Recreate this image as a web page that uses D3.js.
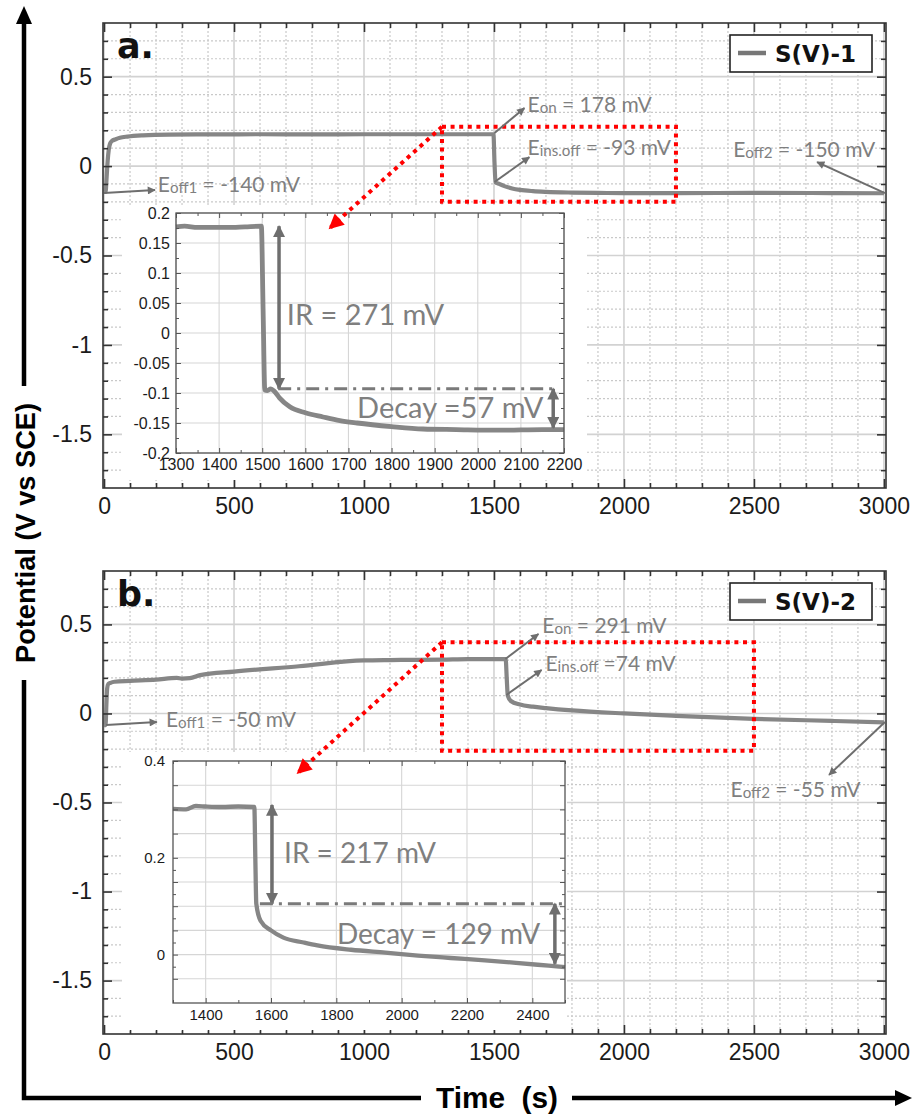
<!DOCTYPE html>
<html>
<head>
<meta charset="utf-8">
<script src="https://cdn.jsdelivr.net/npm/d3@7"></script>
<style>
  body { margin: 0; background: #fff; }
  svg { display: block; }
</style>
</head>
<body>
<svg id="chart" width="914" height="1117"></svg>
<script>
// ---- data ----
// panel a, S(V)-1 : time (s) / potential (V vs SCE)
var timeA = [0, 6, 10, 14, 18, 23, 30, 45, 61, 90, 150, 250, 400, 600, 800, 1000, 1200, 1400, 1498, 1502, 1506, 1520, 1540, 1570, 1600, 1650, 1700, 1800, 1900, 2000, 2200, 2500, 2800, 3000];
var potA = [-0.145, -0.145, -0.06, 0.03, 0.09, 0.125, 0.14, 0.15, 0.158, 0.165, 0.172, 0.176, 0.177, 0.178, 0.177, 0.178, 0.178, 0.178, 0.178, 0.02, -0.09, -0.1, -0.112, -0.125, -0.133, -0.14, -0.144, -0.148, -0.15, -0.151, -0.151, -0.15, -0.151, -0.152];
// panel b, S(V)-2
var timeB = [0, 6, 9, 12, 16, 25, 40, 100, 200, 280, 300, 330, 370, 500, 750, 1000, 1100, 1200, 1300, 1400, 1545, 1549, 1553, 1565, 1600, 1650, 1700, 1800, 2000, 2200, 2500, 2800, 3000];
var potB = [-0.065, -0.065, 0.05, 0.14, 0.165, 0.172, 0.178, 0.183, 0.19, 0.2, 0.196, 0.198, 0.215, 0.235, 0.265, 0.298, 0.3, 0.301, 0.302, 0.305, 0.305, 0.2, 0.1, 0.07, 0.05, 0.038, 0.03, 0.017, 0.0, -0.013, -0.03, -0.042, -0.05];
// zoomed insets
var insetTimeA = [1300, 1320, 1350, 1380, 1420, 1460, 1498, 1502, 1506, 1512, 1520, 1528, 1540, 1564, 1600, 1641, 1680, 1720, 1800, 1873, 1950, 2050, 2150, 2200];
var insetPotA = [0.177, 0.178, 0.176, 0.176, 0.176, 0.177, 0.178, 0.04, -0.095, -0.096, -0.093, -0.097, -0.108, -0.123, -0.133, -0.14, -0.146, -0.15, -0.156, -0.16, -0.161, -0.162, -0.161, -0.161];
var insetTimeB = [1300, 1340, 1370, 1400, 1450, 1500, 1549, 1552, 1555, 1568, 1600, 1638, 1700, 1742, 1845, 1950, 2050, 2150, 2255, 2350, 2450, 2500];
var insetPotB = [0.301, 0.3, 0.307, 0.306, 0.305, 0.306, 0.305, 0.2, 0.105, 0.07, 0.05, 0.035, 0.025, 0.019, 0.01, 0.004, -0.002, -0.007, -0.012, -0.017, -0.023, -0.026];

// tick labels
var xTicksMain = [0, 500, 1000, 1500, 2000, 2500, 3000];
var yTicksMain = [-1.5, -1, -0.5, 0, 0.5];
var xTicksInsetA = [1300, 1400, 1500, 1600, 1700, 1800, 1900, 2000, 2100, 2200];
var yTicksInsetA = [-0.2, -0.15, -0.1, -0.05, 0, 0.05, 0.1, 0.15, 0.2];
var xTicksInsetB = [1400, 1600, 1800, 2000, 2200, 2400];
var yTicksInsetB = [0, 0.2, 0.4];

var legendNames = ["S(V)-1", "S(V)-2"];

const svg = d3.select("#chart");
const GRAY = "#7f7f7f";
const ANN = "#6e6e6e";

// markers
const defs = svg.append("defs");
function marker(id, w, h, color) {
  defs.append("marker")
    .attr("id", id)
    .attr("viewBox", "0 0 10 10")
    .attr("refX", 9).attr("refY", 5)
    .attr("markerWidth", w).attr("markerHeight", h)
    .attr("markerUnits", "userSpaceOnUse")
    .attr("orient", "auto-start-reverse")
    .append("path").attr("d", "M0,0 L10,5 L0,10 Z").attr("fill", color);
}
marker("arrSmall", 10, 8, ANN);
marker("arrBig", 13, 12, ANN);
marker("arrRed", 17, 15, "#ff0000");

function fmt(d) { return String(+d.toFixed(2)); }

// E with subscript label
function eLabel(g, px, py, sub, rest, size) {
  const t = g.append("text")
    .attr("x", px).attr("y", py)
    .attr("font-family", "Lato, 'Open Sans', sans-serif")
    .attr("font-size", size)
    .attr("fill", GRAY)
    .style("white-space", "pre");
  t.append("tspan").text("E");
  t.append("tspan").attr("font-size", size * 0.72).attr("dy", 1).text(sub);
  t.append("tspan").attr("dy", -1).text(rest);
}

function annArrow(g, x1, y1, x2, y2) {
  g.append("line")
    .attr("x1", x1).attr("y1", y1).attr("x2", x2).attr("y2", y2)
    .attr("stroke", ANN).attr("stroke-width", 2)
    .attr("marker-end", "url(#arrSmall)");
}

function drawFrameAxes(g, x, y, o) {
  const [x0, x1] = x.range();
  const [y1, y0] = y.range(); // y1 bottom, y0 top
  const w = x1 - x0, h = y1 - y0;

  g.append("g").attr("transform", `translate(0,${y1})`)
    .call(d3.axisBottom(x).tickValues(o.xMajor).tickSize(-o.maj).tickPadding(o.padX)
      .tickFormat(fmt));
  g.append("g").attr("transform", `translate(0,${y0})`)
    .call(d3.axisTop(x).tickValues(o.xMajor).tickSize(-o.maj).tickFormat(""));
  g.append("g").attr("transform", `translate(${x0},0)`)
    .call(d3.axisLeft(y).tickValues(o.yMajor).tickSize(-o.maj).tickPadding(o.padY)
      .tickFormat(d => (o.yLabelled ? (o.yLabelled.includes(d) ? fmt(d) : "") : fmt(d))));
  g.append("g").attr("transform", `translate(${x1},0)`)
    .call(d3.axisRight(y).tickValues(o.yMajor).tickSize(-o.maj).tickFormat(""));
  g.append("g").attr("transform", `translate(0,${y1})`)
    .call(d3.axisBottom(x).tickValues(o.xMinor).tickSize(-o.min).tickFormat(""));
  g.append("g").attr("transform", `translate(0,${y0})`)
    .call(d3.axisTop(x).tickValues(o.xMinor).tickSize(-o.min).tickFormat(""));
  g.append("g").attr("transform", `translate(${x0},0)`)
    .call(d3.axisLeft(y).tickValues(o.yMinor).tickSize(-o.min).tickFormat(""));
  g.append("g").attr("transform", `translate(${x1},0)`)
    .call(d3.axisRight(y).tickValues(o.yMinor).tickSize(-o.min).tickFormat(""));

  g.selectAll(".domain").remove();
  g.selectAll(".tick line").attr("stroke", o.tickColor).attr("stroke-width", o.tickW);
  g.selectAll(".tick text")
    .attr("font-family", "'Liberation Sans', Arial, sans-serif")
    .attr("font-size", o.fontSize)
    .attr("fill", "#1b1b1b");

  g.append("rect")
    .attr("x", x0).attr("y", y0).attr("width", w).attr("height", h)
    .attr("fill", "none").attr("stroke", o.frameColor).attr("stroke-width", o.frameW);
}

function drawPanel(p, idx) {
  const g = svg.append("g");
  const x = d3.scaleLinear().domain([-4, 3008]).range([103, 886]);
  const y = d3.scaleLinear().domain([-1.8, 0.8]).range([p.bottom, p.top]);

  // grid
  const xMinor = d3.range(100, 3001, 100).filter(v => v % 500 !== 0);
  const yMinor = d3.range(-17, 8, 1).filter(v => v % 5 !== 0).map(v => v / 10);
  const grid = g.append("g");
  grid.selectAll(".vmin").data(xMinor).join("line")
    .attr("x1", d => x(d)).attr("x2", d => x(d)).attr("y1", p.top).attr("y2", p.bottom)
    .attr("stroke", "#c9c9c9").attr("stroke-width", 1.2).attr("stroke-dasharray", "2,2");
  grid.selectAll(".hmin").data(yMinor).join("line")
    .attr("y1", d => y(d)).attr("y2", d => y(d)).attr("x1", 103).attr("x2", 886)
    .attr("stroke", "#c9c9c9").attr("stroke-width", 1.2).attr("stroke-dasharray", "2,2");
  grid.selectAll(".vmaj").data(xTicksMain).join("line")
    .attr("x1", d => x(d)).attr("x2", d => x(d)).attr("y1", p.top).attr("y2", p.bottom)
    .attr("stroke", "#d2d2d2").attr("stroke-width", 1.6);
  grid.selectAll(".hmaj").data(yTicksMain).join("line")
    .attr("y1", d => y(d)).attr("y2", d => y(d)).attr("x1", 103).attr("x2", 886)
    .attr("stroke", "#d2d2d2").attr("stroke-width", 1.6);

  // main curve
  const clipId = "clip" + idx;
  defs.append("clipPath").attr("id", clipId).append("rect")
    .attr("x", 103).attr("y", p.top).attr("width", 783).attr("height", p.bottom - p.top);
  const line = d3.line().x(d => x(d[0])).y(d => y(d[1])).curve(d3.curveMonotoneX);
  g.append("path")
    .datum(d3.zip(p.time, p.pot))
    .attr("clip-path", `url(#${clipId})`)
    .attr("d", line)
    .attr("fill", "none").attr("stroke", "#868686").attr("stroke-width", 4.2)
    .attr("stroke-linejoin", "round");

  drawFrameAxes(g, x, y, {
    xMajor: xTicksMain, xMinor: xMinor, yMajor: yTicksMain, yMinor: yMinor,
    maj: 9, min: 5, padX: 10, padY: 11, fontSize: 23,
    tickColor: "#333", tickW: 1.6, frameColor: "#333", frameW: 1.6
  });

  // inset
  const ins = p.inset;
  g.append("rect")
    .attr("x", ins.bg[0]).attr("y", ins.bg[1])
    .attr("width", ins.bg[2] - ins.bg[0]).attr("height", ins.bg[3] - ins.bg[1])
    .attr("fill", "#fff");
  const ix = d3.scaleLinear().domain(ins.xDomain).range(ins.xRange);
  const iy = d3.scaleLinear().domain(ins.yDomain).range(ins.yRange);
  const ig = g.append("g");
  ig.selectAll(".ivg").data(ins.gridX).join("line")
    .attr("x1", d => ix(d)).attr("x2", d => ix(d)).attr("y1", ins.yRange[1]).attr("y2", ins.yRange[0])
    .attr("stroke", "#d6d6d6").attr("stroke-width", 1.1);
  ig.selectAll(".ihg").data(ins.gridY).join("line")
    .attr("y1", d => iy(d)).attr("y2", d => iy(d)).attr("x1", ins.xRange[0]).attr("x2", ins.xRange[1])
    .attr("stroke", "#d6d6d6").attr("stroke-width", 1.1);
  const iline = d3.line().x(d => ix(d[0])).y(d => iy(d[1])).curve(d3.curveMonotoneX);
  ig.append("path")
    .datum(d3.zip(ins.time, ins.pot))
    .attr("d", iline)
    .attr("fill", "none").attr("stroke", "#868686").attr("stroke-width", ins.lineW)
    .attr("stroke-linejoin", "round");
  drawFrameAxes(ig, ix, iy, {
    xMajor: ins.xTicks, xMinor: ins.xMinor, yMajor: ins.gridY, yMinor: ins.yMinor,
    yLabelled: ins.yLabels,
    maj: 5, min: 3, padX: ins.padX, padY: ins.padY, fontSize: ins.fontSize,
    tickColor: "#555", tickW: 1, frameColor: "#555", frameW: 1.3
  });

  // inset annotations: IR and decay
  const a = ins.ann;
  ig.append("line")
    .attr("x1", ix(a.irT)).attr("x2", ix(a.irT)).attr("y1", iy(a.irTop)).attr("y2", iy(a.irBot))
    .attr("stroke", ANN).attr("stroke-width", 3.5)
    .attr("marker-start", "url(#arrBig)").attr("marker-end", "url(#arrBig)");
  ig.append("line")
    .attr("x1", ix(a.dashFrom)).attr("x2", ix(a.dashTo)).attr("y1", iy(a.irBot)).attr("y2", iy(a.irBot))
    .attr("stroke", "#7a7a7a").attr("stroke-width", 3).attr("stroke-dasharray", "13,6,3,6");
  ig.append("line")
    .attr("x1", ix(a.decT)).attr("x2", ix(a.decT)).attr("y1", iy(a.irBot)).attr("y2", iy(a.decBot))
    .attr("stroke", ANN).attr("stroke-width", 3.5)
    .attr("marker-start", "url(#arrBig)").attr("marker-end", "url(#arrBig)");
  ig.append("text").attr("x", ix(a.irText[0])).attr("y", iy(a.irText[1]))
    .attr("font-family", "Lato, sans-serif").attr("font-size", a.size).attr("fill", GRAY)
    .text(a.irLabel);
  ig.append("text").attr("x", ix(a.decText[0])).attr("y", iy(a.decText[1]))
    .attr("font-family", "Lato, sans-serif").attr("font-size", a.size).attr("fill", GRAY)
    .text(a.decLabel);

  // red zoom box and arrow
  const r = p.redBox;
  g.append("rect")
    .attr("x", x(r.t0)).attr("y", y(r.v1))
    .attr("width", x(r.t1) - x(r.t0)).attr("height", y(r.v0) - y(r.v1))
    .attr("fill", "none").attr("stroke", "#ff0000").attr("stroke-width", 4)
    .attr("stroke-dasharray", "4,4.6");
  g.append("line")
    .attr("x1", x(r.t0)).attr("y1", y(r.v1)).attr("x2", x(r.arrowTo[0])).attr("y2", y(r.arrowTo[1]))
    .attr("stroke", "#ff0000").attr("stroke-width", 4).attr("stroke-dasharray", "4,4.6")
    .attr("marker-end", "url(#arrRed)");

  // E annotations
  p.labels.forEach(l => {
    annArrow(g, x(l.from[0]), y(l.from[1]), x(l.to[0]), y(l.to[1]));
    eLabel(g, x(l.text[0]), y(l.text[1]), l.sub, l.rest, 21);
  });

  // panel letter
  g.append("text").attr("x", 117).attr("y", p.top + 35)
    .attr("font-family", "'DejaVu Sans', sans-serif").attr("font-weight", "bold")
    .attr("font-size", 35).attr("fill", "#111").text(p.letter);

  // legend
  const lg = g.append("g").attr("transform", `translate(730,${p.top + 12})`);
  lg.append("rect").attr("width", 142).attr("height", 37)
    .attr("fill", "#fff").attr("stroke", "#222").attr("stroke-width", 1.6);
  lg.append("line").attr("x1", 8).attr("x2", 36).attr("y1", 18).attr("y2", 18)
    .attr("stroke", "#777").attr("stroke-width", 4.5);
  lg.append("text").attr("x", 45).attr("y", 27)
    .attr("font-family", "'DejaVu Sans', sans-serif").attr("font-weight", "bold")
    .attr("font-size", 23).attr("fill", "#111").text(legendNames[idx]);
}

const panels = [
  {
    letter: "a.", top: 23, bottom: 488, time: timeA, pot: potA,
    redBox: { t0: 1300, t1: 2200, v0: -0.2, v1: 0.22, arrowTo: [868, -0.347] },
    labels: [
      { from: [0, -0.151], to: [196, -0.134], text: [207, -0.145], sub: "off1", rest: " = -140 mV" },
      { from: [1502, 0.185], to: [1617, 0.324], text: [1629, 0.302], sub: "on", rest: " = 178 mV" },
      { from: [1502, -0.089], to: [1636, 0.05], text: [1629, 0.062], sub: "ins.off", rest: " = -93 mV" },
      { from: [3004, -0.151], to: [2743, 0.022], text: [2420, 0.05], sub: "off2", rest: " = -150 mV" }
    ],
    inset: {
      bg: [122, 205, 587, 480],
      xDomain: [1300, 2200], xRange: [176, 564], yDomain: [-0.2, 0.2], yRange: [453, 213],
      time: insetTimeA, pot: insetPotA, lineW: 4.8,
      xTicks: xTicksInsetA, gridX: xTicksInsetA, gridY: yTicksInsetA, yLabels: null,
      xMinor: d3.range(1350, 2200, 100), yMinor: d3.range(-7, 8, 2).map(v => v * 0.025),
      padX: 6, padY: 6, fontSize: 16,
      ann: {
        irT: 1539, irTop: 0.178, irBot: -0.093, dashFrom: 1537, dashTo: 2179,
        decT: 2175, decBot: -0.158, irText: [1557, 0.013], decText: [1720, -0.142],
        irLabel: "IR = 271 mV", decLabel: "Decay =57 mV", size: 29
      }
    }
  },
  {
    letter: "b.", top: 571, bottom: 1034, time: timeB, pot: potB,
    redBox: { t0: 1300, t1: 2500, v0: -0.21, v1: 0.4, arrowTo: [745, -0.334] },
    labels: [
      { from: [8, -0.065], to: [203, -0.048], text: [238, -0.076], sub: "off1", rest: " = -50 mV" },
      { from: [1544, 0.306], to: [1671, 0.446], text: [1686, 0.452], sub: "on", rest: " = 291 mV" },
      { from: [1548, 0.104], to: [1683, 0.244], text: [1698, 0.239], sub: "ins.off", rest: " =74 mV" },
      { from: [3004, -0.048], to: [2789, -0.345], text: [2410, -0.469], sub: "off2", rest: " = -55 mV" }
    ],
    inset: {
      bg: [122, 752, 567, 1030],
      xDomain: [1300, 2500], xRange: [173, 565], yDomain: [-0.1, 0.4], yRange: [1003, 761],
      time: insetTimeB, pot: insetPotB, lineW: 4.3,
      xTicks: xTicksInsetB, gridX: xTicksInsetB,
      gridY: d3.range(-1, 9).map(v => v * 0.05), yLabels: yTicksInsetB,
      xMinor: d3.range(1300, 2501, 200), yMinor: d3.range(-1, 8, 2).map(v => v * 0.025),
      padX: 6, padY: 8, fontSize: 15,
      ann: {
        irT: 1603, irTop: 0.309, irBot: 0.105, dashFrom: 1566, dashTo: 2491,
        decT: 2469, decBot: -0.019, irText: [1640, 0.189], decText: [1802, 0.022],
        irLabel: "IR = 217 mV", decLabel: "Decay = 129 mV", size: 28
      }
    }
  }
];

panels.forEach((p, i) => drawPanel(p, i));

// outer axis arrows and titles
const ax = svg.append("g");
ax.append("path")
  .attr("d", "M24,22 L24,386 M24,680 L24,1098 L421,1098 M572,1098 L898,1098")
  .attr("fill", "none").attr("stroke", "#000").attr("stroke-width", 4.5);
ax.append("path").attr("d", "M24,6 L16,24 L32,24 Z").attr("fill", "#000");
ax.append("path").attr("d", "M912,1098 L895,1090 L895,1106 Z").attr("fill", "#000");
ax.append("text")
  .attr("transform", "translate(35,533) rotate(-90)")
  .attr("text-anchor", "middle")
  .attr("font-family", "'Liberation Sans', Arial, sans-serif")
  .attr("font-weight", "bold").attr("font-size", 28)
  .attr("textLength", 260).attr("lengthAdjust", "spacingAndGlyphs")
  .attr("fill", "#000")
  .text("Potential (V vs SCE)");
ax.append("text")
  .attr("x", 497).attr("y", 1108)
  .attr("text-anchor", "middle")
  .attr("font-family", "'Liberation Sans', Arial, sans-serif")
  .attr("font-weight", "bold").attr("font-size", 29)
  .attr("textLength", 122).attr("lengthAdjust", "spacingAndGlyphs")
  .style("white-space", "pre")
  .attr("fill", "#000")
  .text("Time  (s)");
</script>
</body>
</html>
